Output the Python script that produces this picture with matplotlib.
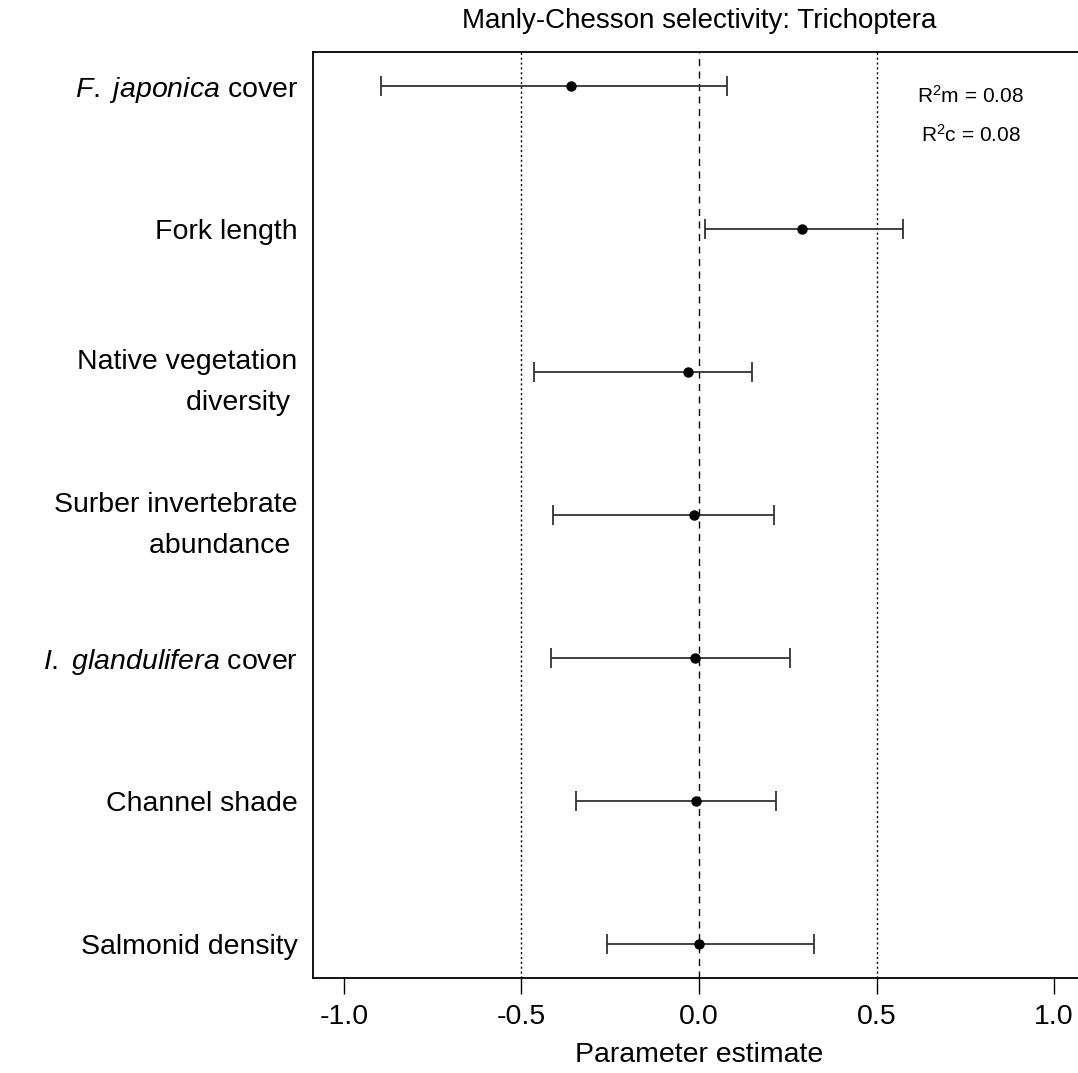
import matplotlib
matplotlib.use("Agg")
import matplotlib.pyplot as plt
import numpy as np

plt.rcParams['font.family'] = ['Liberation Sans', 'DejaVu Sans']
plt.rcParams['mathtext.fontset'] = 'custom'
plt.rcParams['mathtext.rm'] = 'Liberation Sans'
plt.rcParams['mathtext.it'] = 'Liberation Sans:italic'

labels = [r"$F.\ japonica$ cover", "Fork length", "Native vegetation\ndiversity ",
          "Surber invertebrate\nabundance ", r"$I.\ glandulifera$ cover",
          "Channel shade", "Salmonid density"]
estimates = [-0.361, 0.290, -0.031, -0.014, -0.011, -0.008, 0.000]
lower = [-0.896, 0.017, -0.465, -0.411, -0.417, -0.346, -0.259]
upper = [0.079, 0.575, 0.149, 0.211, 0.256, 0.217, 0.324]
xticks = [-1.0, -0.5, 0.0, 0.5, 1.0]
xticklabels = ["-1.0", "-0.5", "0.0", "0.5", "1.0"]

fig = plt.figure(figsize=(10.78, 10.73), dpi=100)
ax = fig.add_axes([313/1078, 94.7/1073, (1085-313)/1078, (978.3-51.7)/1073])

n = len(labels)
ypos = np.arange(n, 0, -1)
est = np.array(estimates)
err = np.vstack([est - np.array(lower), np.array(upper) - est])

ax.axvline(0, color='black', lw=1, ls=(0, (5, 4)), zorder=1)
ax.axvline(-0.5, color='black', lw=1, ls=(0, (1.5, 2)), zorder=1)
ax.axvline(0.5, color='black', lw=1, ls=(0, (1.5, 2)), zorder=1)

ax.errorbar(est, ypos, xerr=err, fmt='o', color='black', ecolor='#333333',
            elinewidth=1.3, capsize=7.5, capthick=1.3, markersize=6.5, zorder=3)

ax.set_xlim(-1.087, 1.087)
ax.set_ylim(0.76, n + 0.24)
ax.set_yticks(ypos)
ax.set_yticklabels(labels, fontsize=20.5, linespacing=1.75)
ax.tick_params(axis='y', length=0, pad=11)
ax.set_xticks(xticks)
ax.set_xticklabels(xticklabels, fontsize=20.5)
ax.tick_params(axis='x', length=11.5, width=1, pad=7, direction='out')
ax.spines['right'].set_visible(False)
for s in ['left', 'top', 'bottom']:
    ax.spines[s].set_linewidth(1.3)

ax.set_xlabel("Parameter estimate", fontsize=20.5, labelpad=9)
ax.set_title("Manly-Chesson selectivity: Trichoptera", fontsize=20, pad=17)

ax.text(0.852, 0.952, "R$^2$m = 0.08", transform=ax.transAxes, ha='center',
        va='center', fontsize=15)
ax.text(0.852, 0.910, "R$^2$c = 0.08", transform=ax.transAxes, ha='center',
        va='center', fontsize=15)

fig.savefig("out.png", dpi=100)
